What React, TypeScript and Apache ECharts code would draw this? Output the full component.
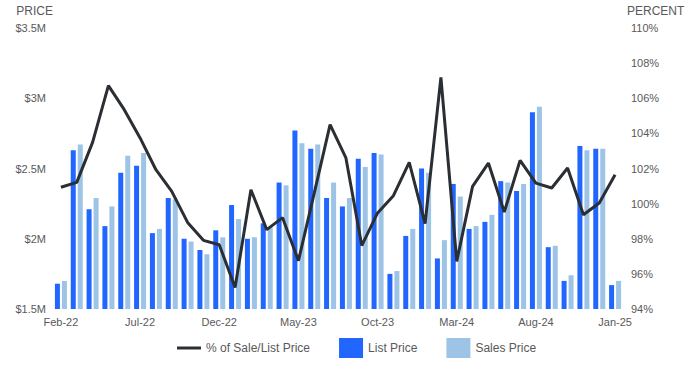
import React, { useEffect, useRef } from "react";
import * as echarts from "echarts";

const categories = [
  "Feb-22", "Mar-22", "Apr-22", "May-22", "Jun-22", "Jul-22", "Aug-22", "Sep-22", "Oct-22", "Nov-22", "Dec-22",
  "Jan-23", "Feb-23", "Mar-23", "Apr-23", "May-23", "Jun-23", "Jul-23", "Aug-23", "Sep-23", "Oct-23", "Nov-23", "Dec-23",
  "Jan-24", "Feb-24", "Mar-24", "Apr-24", "May-24", "Jun-24", "Jul-24", "Aug-24", "Sep-24", "Oct-24", "Nov-24", "Dec-24",
  "Jan-25",
];

// Millions of dollars
const listPrice = [
  1.68, 2.63, 2.21, 2.09, 2.47, 2.52, 2.04, 2.29, 2.0, 1.92, 2.06,
  2.24, 2.0, 2.11, 2.4, 2.77, 2.64, 2.29, 2.23, 2.57, 2.61, 1.75, 2.02,
  2.5, 1.86, 2.39, 2.07, 2.12, 2.41, 2.34, 2.9, 1.94, 1.7, 2.66, 2.64,
  1.67,
];

const salesPrice = [
  1.7, 2.67, 2.29, 2.23, 2.59, 2.61, 2.07, 2.28, 1.98, 1.89, 2.01,
  2.14, 2.01, 2.08, 2.38, 2.68, 2.67, 2.4, 2.29, 2.51, 2.6, 1.77, 2.07,
  2.47, 1.99, 2.3, 2.09, 2.17, 2.4, 2.39, 2.94, 1.95, 1.74, 2.63, 2.64,
  1.7,
];

const saleToListPct = [
  100.93, 101.21, 103.49, 106.72, 105.35, 103.74, 101.93, 100.7, 98.93, 97.91, 97.66,
  95.22, 100.79, 98.52, 99.2, 96.75, 100.6, 104.5, 102.6, 97.61, 99.47, 100.45, 102.35,
  98.86, 107.19, 96.71, 100.98, 102.31, 99.52, 102.46, 101.17, 100.89, 102.03, 99.37, 100.04,
  101.65,
];

const textColor = "#595959";
const font = "Arial, Liberation Sans, sans-serif";

export default function App() {
  const ref = useRef<HTMLDivElement>(null);
  useEffect(() => {
    if (!ref.current) return;
    const chart = echarts.init(ref.current, undefined, { renderer: "svg" });
    chart.setOption({
      animation: false,
      textStyle: { fontFamily: font },
      grid: { left: 53, right: 76, top: 28, bottom: 63 },
      legend: {
        bottom: 9,
        left: 172,
        itemWidth: 24,
        itemHeight: 20,
        itemGap: 29,
        textStyle: { color: textColor, fontSize: 12, fontFamily: font },
        data: [
          { name: "% of Sale/List Price", icon: "path://M0,0 L24,0 L24,3 L0,3 Z" },
          { name: "List Price", icon: "rect" },
          { name: "Sales Price", icon: "rect" },
        ],
      },
      xAxis: {
        type: "category",
        data: categories,
        axisLine: { show: false },
        axisTick: { show: false },
        axisLabel: { interval: 4, color: textColor, fontSize: 11, margin: 7, fontFamily: font },
      },
      yAxis: [
        {
          type: "value",
          min: 1.5,
          max: 3.5,
          interval: 0.5,
          name: "PRICE",
          nameGap: 11,
          nameTextStyle: { color: textColor, fontSize: 12, align: "right", fontFamily: font },
          splitLine: { show: false },
          axisLine: { show: false },
          axisTick: { show: false },
          axisLabel: {
            color: textColor,
            fontSize: 11,
            margin: 7,
            fontFamily: font,
            formatter: (v: number) => "$" + v + "M",
          },
        },
        {
          type: "value",
          min: 94,
          max: 110,
          interval: 2,
          name: "PERCENT",
          nameGap: 11,
          nameTextStyle: { color: textColor, fontSize: 12, align: "left", padding: [0, 0, 0, 4], fontFamily: font },
          splitLine: { show: false },
          axisLine: { show: false },
          axisTick: { show: false },
          axisLabel: {
            color: textColor,
            fontSize: 11,
            margin: 8,
            fontFamily: font,
            formatter: (v: number) => v + "%",
          },
        },
      ],
      series: [
        {
          name: "List Price",
          type: "bar",
          data: listPrice,
          barWidth: 5,
          barGap: "40%",
          itemStyle: { color: "#2166FF" },
        },
        {
          name: "Sales Price",
          type: "bar",
          data: salesPrice,
          barWidth: 5,
          barGap: "40%",
          itemStyle: { color: "#9DC3E6" },
        },
        {
          name: "% of Sale/List Price",
          type: "line",
          yAxisIndex: 1,
          data: saleToListPct,
          symbol: "none",
          z: 5,
          lineStyle: { color: "#2B2F33", width: 3 },
          itemStyle: { color: "#2B2F33" },
        },
      ],
    });
    return () => chart.dispose();
  }, []);
  return <div ref={ref} style={{ width: 699, height: 372, position: "absolute", left: 0, top: 0 }} />;
}
